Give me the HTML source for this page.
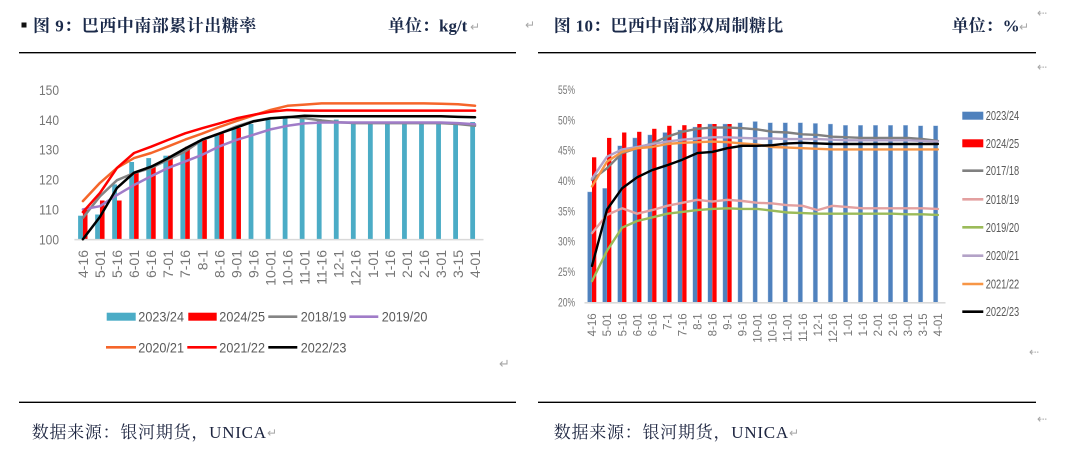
<!DOCTYPE html>
<html>
<head>
<meta charset="utf-8">
<style>
  html,body{margin:0;padding:0;background:#ffffff;}
  svg{display:block;}
  .tt{font-family:"Liberation Serif","Noto Serif CJK SC",serif;font-weight:bold;fill:#1b2a4a;}
  .src{font-family:"Liberation Serif","Noto Serif CJK SC",serif;fill:#1d2540;}
  .ax{font-family:"Liberation Sans",sans-serif;fill:#767676;}
  .lg{font-family:"Liberation Sans",sans-serif;fill:#595959;}
  .rm{font-family:"DejaVu Sans",sans-serif;fill:#a6a6a6;}
</style>
</head>
<body>
<svg width="1081" height="460" viewBox="0 0 1081 460" xmlns="http://www.w3.org/2000/svg">
  <rect x="0" y="0" width="1081" height="460" fill="#ffffff"/>

  <!-- ================= LEFT PANEL ================= -->
  <rect x="21.5" y="22.5" width="5" height="5" fill="#111"/>
  <text class="tt" x="33" y="31.5" font-size="17" letter-spacing="0.5">图 9：巴西中南部累计出糖率</text>
  <text class="tt" x="388" y="31.5" font-size="17">单位：kg/t</text>
  <text class="rm" x="470" y="31" font-size="12">↵</text>
  <text class="rm" x="525" y="29" font-size="12">↵</text>
  <line x1="19" y1="52.7" x2="516" y2="52.7" stroke="#000" stroke-width="1.4"/>

  <!-- y labels -->
  <g class="ax" font-size="14" text-anchor="end">
    <text x="59" y="95" textLength="20" lengthAdjust="spacingAndGlyphs">150</text>
    <text x="59" y="124.9" textLength="20" lengthAdjust="spacingAndGlyphs">140</text>
    <text x="59" y="154.7" textLength="20" lengthAdjust="spacingAndGlyphs">130</text>
    <text x="59" y="184.6" textLength="20" lengthAdjust="spacingAndGlyphs">120</text>
    <text x="59" y="214.4" textLength="20" lengthAdjust="spacingAndGlyphs">110</text>
    <text x="59" y="244.3" textLength="20" lengthAdjust="spacingAndGlyphs">100</text>
  </g>

  <!-- blue bars 2023/24 -->
  <g fill="#4bacc6">
    <rect x="78.1" y="215.7" width="4.8" height="23.6"/>
    <rect x="95.15" y="214.5" width="4.8" height="24.8"/>
    <rect x="112.2" y="184.4" width="4.8" height="54.9"/>
    <rect x="129.25" y="162.0" width="4.8" height="77.3"/>
    <rect x="146.3" y="158.1" width="4.8" height="81.2"/>
    <rect x="163.35" y="155.7" width="4.8" height="83.6"/>
    <rect x="180.4" y="149.7" width="4.8" height="89.6"/>
    <rect x="197.45" y="140.2" width="4.8" height="99.1"/>
    <rect x="214.5" y="133.6" width="4.8" height="105.7"/>
    <rect x="231.55" y="128.8" width="4.8" height="110.5"/>
    <rect x="248.6" y="124.0" width="4.8" height="115.3"/>
    <rect x="265.65" y="119.9" width="4.8" height="119.4"/>
    <rect x="282.7" y="117.2" width="4.8" height="122.1"/>
    <rect x="299.75" y="117.2" width="4.8" height="122.1"/>
    <rect x="316.8" y="119.0" width="4.8" height="120.3"/>
    <rect x="333.85" y="119.6" width="4.8" height="119.7"/>
    <rect x="350.9" y="121.7" width="4.8" height="117.6"/>
    <rect x="367.95" y="121.7" width="4.8" height="117.6"/>
    <rect x="385.0" y="121.7" width="4.8" height="117.6"/>
    <rect x="402.05" y="121.7" width="4.8" height="117.6"/>
    <rect x="419.1" y="121.7" width="4.8" height="117.6"/>
    <rect x="436.15" y="121.7" width="4.8" height="117.6"/>
    <rect x="453.2" y="122.0" width="4.8" height="117.3"/>
    <rect x="470.25" y="122.0" width="4.8" height="117.3"/>
  </g>
  <!-- red bars 2024/25 -->
  <g fill="#ff0000">
    <rect x="82.9" y="209.4" width="4.6" height="29.9"/>
    <rect x="99.95" y="200.5" width="4.6" height="38.8"/>
    <rect x="117.0" y="200.5" width="4.6" height="38.8"/>
    <rect x="134.05" y="173.0" width="4.6" height="66.3"/>
    <rect x="151.1" y="165.3" width="4.6" height="74.0"/>
    <rect x="168.15" y="155.7" width="4.6" height="83.6"/>
    <rect x="185.2" y="146.7" width="4.6" height="92.6"/>
    <rect x="202.25" y="139.9" width="4.6" height="99.4"/>
    <rect x="219.3" y="133.6" width="4.6" height="105.7"/>
    <rect x="236.35" y="127.9" width="4.6" height="111.4"/>
  </g>
  <!-- axis -->
  <line x1="74.4" y1="239.6" x2="483.5" y2="239.6" stroke="#d9d9d9" stroke-width="1.5"/>

  <!-- lines -->
  <g fill="none" stroke-width="2.5" stroke-linejoin="round" stroke-linecap="round">
    <polyline stroke="#848484" points="82.9,217.8 99.95,196.3 117,180.2 134.05,173 151.1,167.9 168.15,159.6 185.2,151.5 202.25,139.9 219.3,133.6 236.35,126.4 253.4,121.1 270.45,118.1 287.5,116.9 304.55,118.1 321.6,120.5 338.65,122.2 355.7,123.1 372.75,123.1 389.8,123.1 406.85,123.1 423.9,123.1 440.95,123.1 458,124 475.05,125.8"/>
    <polyline stroke="#a07cc8" points="82.9,209.4 99.95,206.2 117,195.1 134.05,185 151.1,176.3 168.15,167.9 185.2,161.4 202.25,154.8 219.3,146.4 236.35,139.9 253.4,134.8 270.45,129.4 287.5,125.8 304.55,123.4 321.6,122.5 338.65,122.5 355.7,122.5 372.75,122.5 389.8,122.5 406.85,122.5 423.9,122.5 440.95,122.5 458,123.1 475.05,124.3"/>
    <polyline stroke="#f5652a" points="82.9,201.1 99.95,182.9 117,167.9 134.05,158.1 151.1,153 168.15,146.4 185.2,139.6 202.25,133.6 219.3,127 236.35,121.1 253.4,115.4 270.45,110 287.5,105.8 304.55,104.6 321.6,103.4 338.65,103.4 355.7,103.4 372.75,103.4 389.8,103.4 406.85,103.4 423.9,103.4 440.95,103.7 458,104.3 475.05,105.8"/>
    <polyline stroke="#ff0000" points="82.9,212.1 99.95,193 117,167.9 134.05,153 151.1,146.7 168.15,139.9 185.2,133.3 202.25,128.2 219.3,123.4 236.35,118.4 253.4,114.8 270.45,111.8 287.5,110 304.55,110.6 321.6,110.6 338.65,110.6 355.7,110.6 372.75,110.6 389.8,110.6 406.85,110.6 423.9,110.6 440.95,110.6 458,110.6 475.05,110.6"/>
    <polyline stroke="#000000" points="82.9,239.3 99.95,216.9 117,187.9 134.05,172.7 151.1,166.7 168.15,158.1 185.2,148.5 202.25,139.6 219.3,133.6 236.35,127.6 253.4,121.4 270.45,118.4 287.5,117.2 304.55,115.7 321.6,116.3 338.65,116.3 355.7,116.3 372.75,116.3 389.8,116.3 406.85,116.3 423.9,116.3 440.95,116.3 458,116.9 475.05,117.2"/>
  </g>

  <!-- x tick labels -->
  <g class="ax" font-size="14" text-anchor="end">
    <text transform="translate(87.9,250) rotate(-90)">4-16</text>
    <text transform="translate(104.95,250) rotate(-90)">5-01</text>
    <text transform="translate(122,250) rotate(-90)">5-16</text>
    <text transform="translate(139.05,250) rotate(-90)">6-01</text>
    <text transform="translate(156.1,250) rotate(-90)">6-16</text>
    <text transform="translate(173.15,250) rotate(-90)">7-01</text>
    <text transform="translate(190.2,250) rotate(-90)">7-16</text>
    <text transform="translate(207.25,250) rotate(-90)">8-1</text>
    <text transform="translate(224.3,250) rotate(-90)">8-16</text>
    <text transform="translate(241.35,250) rotate(-90)">9-01</text>
    <text transform="translate(258.4,250) rotate(-90)">9-16</text>
    <text transform="translate(275.45,250) rotate(-90)">10-01</text>
    <text transform="translate(292.5,250) rotate(-90)">10-16</text>
    <text transform="translate(309.55,250) rotate(-90)">11-01</text>
    <text transform="translate(326.6,250) rotate(-90)">11-16</text>
    <text transform="translate(343.65,250) rotate(-90)">12-1</text>
    <text transform="translate(360.7,250) rotate(-90)">12-16</text>
    <text transform="translate(377.75,250) rotate(-90)">1-01</text>
    <text transform="translate(394.8,250) rotate(-90)">1-16</text>
    <text transform="translate(411.85,250) rotate(-90)">2-01</text>
    <text transform="translate(428.9,250) rotate(-90)">2-16</text>
    <text transform="translate(445.95,250) rotate(-90)">3-01</text>
    <text transform="translate(463,250) rotate(-90)">3-15</text>
    <text transform="translate(480.05,250) rotate(-90)">4-01</text>
  </g>

  <!-- left legend -->
  <g class="lg" font-size="14">
    <rect x="106.7" y="312.7" width="29" height="8" fill="#4bacc6"/>
    <text x="138.3" y="321.7" textLength="45.7" lengthAdjust="spacingAndGlyphs">2023/24</text>
    <rect x="188.3" y="312.7" width="28.4" height="8" fill="#ff0000"/>
    <text x="219.3" y="321.7" textLength="45.7" lengthAdjust="spacingAndGlyphs">2024/25</text>
    <line x1="268.3" y1="316.7" x2="297.3" y2="316.7" stroke="#848484" stroke-width="2.6"/>
    <text x="300.7" y="321.7" textLength="45.7" lengthAdjust="spacingAndGlyphs">2018/19</text>
    <line x1="349.3" y1="316.7" x2="378.3" y2="316.7" stroke="#a07cc8" stroke-width="2.6"/>
    <text x="381.7" y="321.7" textLength="45.7" lengthAdjust="spacingAndGlyphs">2019/20</text>

    <line x1="106" y1="347.3" x2="136" y2="347.3" stroke="#f5652a" stroke-width="2.6"/>
    <text x="138.3" y="352.3" textLength="45.7" lengthAdjust="spacingAndGlyphs">2020/21</text>
    <line x1="187.3" y1="347.3" x2="216.7" y2="347.3" stroke="#ff0000" stroke-width="2.6"/>
    <text x="219.3" y="352.3" textLength="45.7" lengthAdjust="spacingAndGlyphs">2021/22</text>
    <line x1="268.3" y1="347.3" x2="297.3" y2="347.3" stroke="#000000" stroke-width="2.6"/>
    <text x="300.7" y="352.3" textLength="45.7" lengthAdjust="spacingAndGlyphs">2022/23</text>
  </g>
  <text class="rm" x="499" y="368" font-size="13">↵</text>

  <line x1="19" y1="402.3" x2="516" y2="402.3" stroke="#000" stroke-width="1.4"/>
  <text class="src" x="31.7" y="438" font-size="17" letter-spacing="0.75">数据来源：银河期货，UNICA</text>
  <text class="rm" x="267" y="437" font-size="12">↵</text>

  <!-- ================= RIGHT PANEL ================= -->
  <text class="tt" x="553.8" y="31.5" font-size="17" letter-spacing="0.3">图 10：巴西中南部双周制糖比</text>
  <text class="tt" x="951.7" y="31.5" font-size="17">单位：%</text>
  <text class="rm" x="1019" y="31" font-size="12">↵</text>
  <text class="rm" x="1037" y="17" font-size="12">⇠</text>
  <text class="rm" x="1037" y="71" font-size="12">⇠</text>
  <line x1="538" y1="52.7" x2="1036" y2="52.7" stroke="#000" stroke-width="1.4"/>

  <!-- y labels -->
  <g class="ax" font-size="12" text-anchor="end">
    <text x="575" y="94" textLength="17" lengthAdjust="spacingAndGlyphs">55%</text>
    <text x="575" y="124.3" textLength="17" lengthAdjust="spacingAndGlyphs">50%</text>
    <text x="575" y="154.6" textLength="17" lengthAdjust="spacingAndGlyphs">45%</text>
    <text x="575" y="185" textLength="17" lengthAdjust="spacingAndGlyphs">40%</text>
    <text x="575" y="215.3" textLength="17" lengthAdjust="spacingAndGlyphs">35%</text>
    <text x="575" y="245.6" textLength="17" lengthAdjust="spacingAndGlyphs">30%</text>
    <text x="575" y="276" textLength="17" lengthAdjust="spacingAndGlyphs">25%</text>
    <text x="575" y="306.3" textLength="17" lengthAdjust="spacingAndGlyphs">20%</text>
  </g>

  <!-- blue bars 2023/24 -->
  <g fill="#4f81bd" stroke="#bcd0ea" stroke-width="0.4">
    <rect x="587.5" y="191.9" width="4.5" height="110.4"/>
    <rect x="602.54" y="188.3" width="4.5" height="114.0"/>
    <rect x="617.58" y="145.8" width="4.5" height="156.5"/>
    <rect x="632.62" y="137.9" width="4.5" height="164.4"/>
    <rect x="647.66" y="134.9" width="4.5" height="167.4"/>
    <rect x="662.7" y="132.5" width="4.5" height="169.8"/>
    <rect x="677.74" y="130.0" width="4.5" height="172.3"/>
    <rect x="692.78" y="127.0" width="4.5" height="175.3"/>
    <rect x="707.82" y="124.0" width="4.5" height="178.3"/>
    <rect x="722.86" y="124.0" width="4.5" height="178.3"/>
    <rect x="737.9" y="122.7" width="4.5" height="179.6"/>
    <rect x="752.94" y="121.5" width="4.5" height="180.8"/>
    <rect x="767.98" y="122.7" width="4.5" height="179.6"/>
    <rect x="783.02" y="122.7" width="4.5" height="179.6"/>
    <rect x="798.06" y="122.7" width="4.5" height="179.6"/>
    <rect x="813.1" y="123.4" width="4.5" height="178.9"/>
    <rect x="828.14" y="124.0" width="4.5" height="178.3"/>
    <rect x="843.18" y="125.2" width="4.5" height="177.1"/>
    <rect x="858.22" y="125.2" width="4.5" height="177.1"/>
    <rect x="873.26" y="125.2" width="4.5" height="177.1"/>
    <rect x="888.3" y="125.2" width="4.5" height="177.1"/>
    <rect x="903.34" y="125.2" width="4.5" height="177.1"/>
    <rect x="918.38" y="125.8" width="4.5" height="176.5"/>
    <rect x="933.42" y="125.8" width="4.5" height="176.5"/>
  </g>
  <!-- red bars 2024/25 -->
  <g fill="#ff0000">
    <rect x="592" y="157.3" width="4.3" height="145.0"/>
    <rect x="607.04" y="137.9" width="4.3" height="164.4"/>
    <rect x="622.08" y="132.5" width="4.3" height="169.8"/>
    <rect x="637.12" y="131.8" width="4.3" height="170.5"/>
    <rect x="652.16" y="128.8" width="4.3" height="173.5"/>
    <rect x="667.2" y="125.8" width="4.3" height="176.5"/>
    <rect x="682.24" y="125.2" width="4.3" height="177.1"/>
    <rect x="697.28" y="124.0" width="4.3" height="178.3"/>
    <rect x="712.32" y="124.0" width="4.3" height="178.3"/>
    <rect x="727.36" y="124.0" width="4.3" height="178.3"/>
  </g>
  <line x1="584.5" y1="302.8" x2="945.5" y2="302.8" stroke="#d9d9d9" stroke-width="1.6"/>

  <g fill="none" stroke-width="2.4" stroke-linejoin="round" stroke-linecap="round">
    <polyline stroke="#808080" points="592,179.8 607.04,168.2 622.08,153.1 637.12,148.2 652.16,143.4 667.2,136.7 682.24,131.8 697.28,128.8 712.32,127.6 727.36,127.6 742.4,128.2 757.44,129.4 772.48,131.8 787.52,132.5 802.56,134.3 817.6,134.9 832.64,136.7 847.68,137.3 862.72,137.9 877.76,137.9 892.8,137.9 907.84,137.9 922.88,139.1 937.92,140.9"/>
    <polyline stroke="#e3a0a0" points="592,233.1 607.04,214.9 622.08,208.3 637.12,213.7 652.16,210.1 667.2,205.8 682.24,202.8 697.28,199.8 712.32,201.6 727.36,199.8 742.4,201 757.44,202.8 772.48,203.4 787.52,205.2 802.56,205.8 817.6,210.1 832.64,205.8 847.68,207.1 862.72,208.3 877.76,208.3 892.8,208.3 907.84,208.3 922.88,208.3 937.92,208.9"/>
    <polyline stroke="#9bbb59" points="592,281.1 607.04,250.7 622.08,227.7 637.12,221 652.16,217.4 667.2,213.7 682.24,211.9 697.28,210.1 712.32,208.9 727.36,208.3 742.4,208.9 757.44,208.9 772.48,210.7 787.52,212.5 802.56,213.1 817.6,213.7 832.64,213.7 847.68,213.7 862.72,213.7 877.76,213.7 892.8,213.7 907.84,214.3 922.88,214.3 937.92,214.9"/>
    <polyline stroke="#b3a2c7" points="592,178.6 607.04,156.7 622.08,149.4 637.12,147 652.16,144 667.2,141.6 682.24,139.7 697.28,138.5 712.32,137.3 727.36,137.3 742.4,137.9 757.44,138.5 772.48,138.5 787.52,139.1 802.56,139.1 817.6,139.1 832.64,139.7 847.68,140.3 862.72,140.3 877.76,140.3 892.8,140.3 907.84,140.3 922.88,140.9 937.92,141.6"/>
    <polyline stroke="#f79646" points="592,186.4 607.04,161.6 622.08,151.9 637.12,148.2 652.16,147 667.2,144 682.24,142.8 697.28,142.2 712.32,141.6 727.36,142.2 742.4,143.4 757.44,144.6 772.48,147 787.52,147.6 802.56,148.2 817.6,148.8 832.64,149.4 847.68,149.4 862.72,149.4 877.76,149.4 892.8,149.4 907.84,149.4 922.88,149.4 937.92,149.4"/>
    <polyline stroke="#000000" points="592,265.9 607.04,209.5 622.08,188.3 637.12,177.3 652.16,170.1 667.2,165.2 682.24,159.7 697.28,153.1 712.32,151.9 727.36,148.2 742.4,145.8 757.44,145.8 772.48,145.2 787.52,143.4 802.56,142.8 817.6,143.4 832.64,144 847.68,144 862.72,144 877.76,144 892.8,144 907.84,144 922.88,144 937.92,144"/>
  </g>

  <!-- x tick labels -->
  <g class="ax" font-size="11.5" text-anchor="end">
    <text transform="translate(596.2,313.3) rotate(-90)">4-16</text>
    <text transform="translate(611.24,313.3) rotate(-90)">5-01</text>
    <text transform="translate(626.28,313.3) rotate(-90)">5-16</text>
    <text transform="translate(641.32,313.3) rotate(-90)">6-01</text>
    <text transform="translate(656.36,313.3) rotate(-90)">6-16</text>
    <text transform="translate(671.4,313.3) rotate(-90)">7-1</text>
    <text transform="translate(686.44,313.3) rotate(-90)">7-16</text>
    <text transform="translate(701.48,313.3) rotate(-90)">8-1</text>
    <text transform="translate(716.52,313.3) rotate(-90)">8-16</text>
    <text transform="translate(731.56,313.3) rotate(-90)">9-1</text>
    <text transform="translate(746.6,313.3) rotate(-90)">9-16</text>
    <text transform="translate(761.64,313.3) rotate(-90)">10-01</text>
    <text transform="translate(776.68,313.3) rotate(-90)">10-16</text>
    <text transform="translate(791.72,313.3) rotate(-90)">11-01</text>
    <text transform="translate(806.76,313.3) rotate(-90)">11-16</text>
    <text transform="translate(821.8,313.3) rotate(-90)">12-1</text>
    <text transform="translate(836.84,313.3) rotate(-90)">12-16</text>
    <text transform="translate(851.88,313.3) rotate(-90)">1-01</text>
    <text transform="translate(866.92,313.3) rotate(-90)">1-16</text>
    <text transform="translate(881.96,313.3) rotate(-90)">2-01</text>
    <text transform="translate(897,313.3) rotate(-90)">2-16</text>
    <text transform="translate(912.04,313.3) rotate(-90)">3-01</text>
    <text transform="translate(927.08,313.3) rotate(-90)">3-15</text>
    <text transform="translate(942.12,313.3) rotate(-90)">4-01</text>
  </g>

  <!-- right legend -->
  <g class="lg" font-size="13">
    <rect x="962.3" y="111.7" width="21" height="8" fill="#4f81bd"/>
    <text x="985.7" y="120.2" textLength="33.5" lengthAdjust="spacingAndGlyphs">2023/24</text>
    <rect x="962.3" y="139.3" width="21" height="8" fill="#ff0000"/>
    <text x="985.7" y="147.8" textLength="33.5" lengthAdjust="spacingAndGlyphs">2024/25</text>
    <line x1="962.3" y1="170.7" x2="983.3" y2="170.7" stroke="#808080" stroke-width="2.6"/>
    <text x="985.7" y="175.2" textLength="33.5" lengthAdjust="spacingAndGlyphs">2017/18</text>
    <line x1="962.3" y1="199.3" x2="983.3" y2="199.3" stroke="#e3a0a0" stroke-width="2.6"/>
    <text x="985.7" y="203.8" textLength="33.5" lengthAdjust="spacingAndGlyphs">2018/19</text>
    <line x1="962.3" y1="227.3" x2="983.3" y2="227.3" stroke="#9bbb59" stroke-width="2.6"/>
    <text x="985.7" y="231.8" textLength="33.5" lengthAdjust="spacingAndGlyphs">2019/20</text>
    <line x1="962.3" y1="255.7" x2="983.3" y2="255.7" stroke="#b3a2c7" stroke-width="2.6"/>
    <text x="985.7" y="260.2" textLength="33.5" lengthAdjust="spacingAndGlyphs">2020/21</text>
    <line x1="962.3" y1="284" x2="983.3" y2="284" stroke="#f79646" stroke-width="2.6"/>
    <text x="985.7" y="288.5" textLength="33.5" lengthAdjust="spacingAndGlyphs">2021/22</text>
    <line x1="962.3" y1="311.7" x2="983.3" y2="311.7" stroke="#000000" stroke-width="2.6"/>
    <text x="985.7" y="316.2" textLength="33.5" lengthAdjust="spacingAndGlyphs">2022/23</text>
  </g>
  <text class="rm" x="1029" y="356" font-size="12">⇠</text>

  <line x1="538" y1="402.3" x2="1036" y2="402.3" stroke="#000" stroke-width="1.4"/>
  <text class="rm" x="1037" y="423" font-size="12">⇠</text>
  <text class="src" x="553.8" y="438" font-size="17" letter-spacing="0.75">数据来源：银河期货，UNICA</text>
  <text class="rm" x="789" y="437" font-size="12">↵</text>
</svg>
</body>
</html>
